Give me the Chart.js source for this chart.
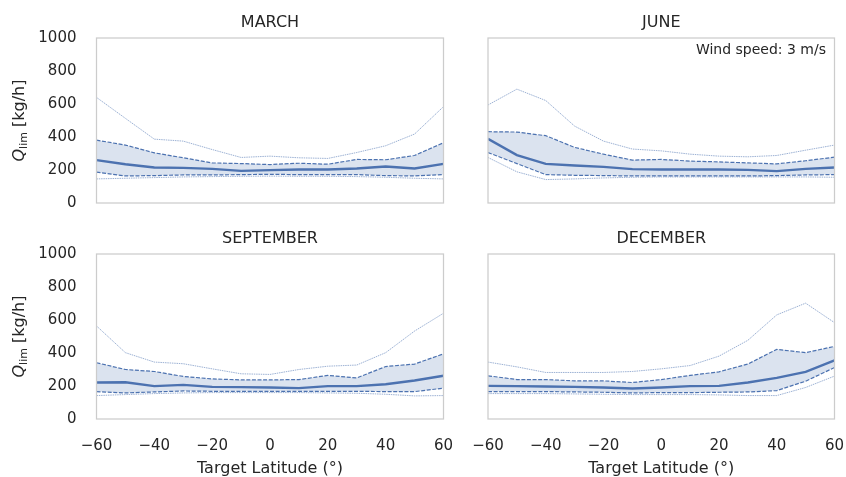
<!DOCTYPE html>
<html lang="en">

<head>
    <meta charset="UTF-8">
    <title>Q_lim by latitude</title>
    <script src="https://cdn.jsdelivr.net/npm/chart.js"></script>
    <style>
        body { margin: 0; background: #fff; overflow: hidden; }
        .panel { position: absolute; }
    </style>
</head>

<body>
    <div class="panel" style="left:0;top:0;width:470px;height:210px"><canvas id="marchChart"></canvas></div>
    <div class="panel" style="left:450px;top:0;width:396px;height:210px"><canvas id="juneChart"></canvas></div>
    <div class="panel" style="left:0;top:216px;width:470px;height:262px"><canvas id="septChart"></canvas></div>
    <div class="panel" style="left:450px;top:216px;width:396px;height:262px"><canvas id="decChart"></canvas></div>

    <script>
        // latitudes on x
        const lats = [-60, -50, -40, -30, -20, -10, 0, 10, 20, 30, 40, 50, 60];
        const xTicks = [-60, -40, -20, 0, 20, 40, 60];
        const yTicks = [0, 200, 400, 600, 800, 1000];

        // March
        const marMax = [640, 513, 387, 375, 324, 276, 284, 274, 270, 306, 347, 418, 584];
        const marUq  = [381, 351, 304, 274, 243, 239, 233, 241, 235, 264, 262, 288, 365];
        const marMed = [260, 235, 215, 213, 207, 195, 199, 203, 203, 209, 221, 209, 237];
        const marLq  = [187, 164, 166, 170, 170, 172, 174, 172, 172, 172, 166, 164, 172];
        const marMin = [146, 150, 154, 158, 160, 162, 163, 162, 162, 160, 156, 150, 146];

        // June
        const junMax = [594, 690, 621, 466, 375, 327, 316, 296, 284, 280, 288, 320, 351];
        const junUq  = [432, 430, 408, 337, 296, 260, 264, 254, 249, 243, 237, 256, 278];
        const junMed = [389, 290, 237, 227, 219, 205, 203, 203, 203, 201, 193, 207, 215];
        const junLq  = [306, 239, 172, 168, 166, 164, 164, 164, 164, 164, 166, 170, 172];
        const junMin = [276, 189, 142, 146, 152, 156, 158, 158, 158, 158, 158, 158, 156];

        // September
        const sepMax = [564, 402, 345, 335, 304, 274, 270, 300, 320, 327, 402, 533, 641];
        const sepUq  = [341, 300, 288, 258, 243, 237, 237, 239, 264, 249, 318, 333, 395];
        const sepMed = [221, 223, 199, 207, 195, 193, 191, 187, 199, 199, 211, 233, 262];
        const sepLq  = [166, 158, 164, 170, 168, 168, 168, 168, 168, 168, 166, 166, 187];
        const sepMin = [142, 148, 154, 158, 160, 160, 160, 160, 158, 156, 150, 140, 142];

        // December
        const decMax = [345, 316, 282, 282, 282, 288, 304, 324, 381, 477, 631, 702, 584];
        const decUq  = [262, 239, 239, 231, 231, 221, 239, 264, 286, 333, 422, 402, 440];
        const decMed = [201, 199, 197, 195, 191, 185, 191, 199, 201, 221, 249, 286, 355];
        const decLq  = [166, 166, 166, 164, 162, 158, 160, 160, 162, 164, 172, 229, 312];
        const decMin = [154, 154, 154, 152, 150, 148, 148, 148, 146, 142, 142, 191, 260];

        const BLUE = '#4c72b0';
        const PALE = 'rgba(76,114,176,0.55)';
        const TEXT = '#262626';
        const FONT = 'DejaVu Sans';

        const pts = arr => arr.map((v, i) => ({ x: lats[i], y: v }));

        // fixed axis sizes, no label overflow padding
        function fixSize(s, w, h) {
            if (w !== null) s.width = w;
            if (h !== null) s.height = h;
            s.paddingLeft = 0; s.paddingRight = 0; s.paddingTop = 0; s.paddingBottom = 0;
        }

        // frame round the plot area + panel title centred on it
        const framePlugin = {
            id: 'frame',
            afterDraw(chart, args, opts) {
                const a = chart.chartArea, ctx = chart.ctx;
                ctx.save();
                ctx.strokeStyle = '#cccccc';
                ctx.lineWidth = 1.25;
                ctx.strokeRect(a.left, a.top, a.right - a.left, a.bottom - a.top);
                ctx.font = '16px ' + FONT;
                ctx.fillStyle = TEXT;
                ctx.textAlign = 'center';
                ctx.textBaseline = 'middle';
                ctx.fillText(opts.title, (a.left + a.right) / 2, a.top - 15.5);
                ctx.restore();
            }
        };

        // y label with subscript, drawn rotated
        const yLabelPlugin = {
            id: 'yLabel',
            afterDraw(chart, args, opts) {
                if (!opts.show) return;
                const ctx = chart.ctx, a = chart.chartArea;
                ctx.save();
                ctx.translate(20, (a.top + a.bottom) / 2);
                ctx.rotate(-Math.PI / 2);
                ctx.fillStyle = TEXT;
                ctx.textBaseline = 'middle';
                const fQ = 'italic 16px ' + FONT, fSub = '11px ' + FONT, fMain = '16px ' + FONT;
                ctx.font = fQ; const wQ = ctx.measureText('Q').width;
                ctx.font = fSub; const wS = ctx.measureText('lim').width;
                ctx.font = fMain; const wM = ctx.measureText(' [kg/h]').width;
                let x = -(wQ + wS + wM) / 2;
                ctx.textAlign = 'left';
                ctx.font = fQ; ctx.fillText('Q', x, 0); x += wQ;
                ctx.font = fSub; ctx.fillText('lim', x, 4); x += wS;
                ctx.font = fMain; ctx.fillText(' [kg/h]', x, 0);
                ctx.restore();
            }
        };

        // wind speed note
        const notePlugin = {
            id: 'note',
            afterDraw(chart, args, opts) {
                if (!opts.text) return;
                const ctx = chart.ctx, a = chart.chartArea;
                ctx.save();
                ctx.font = '14px ' + FONT;
                ctx.fillStyle = TEXT;
                ctx.textAlign = 'right';
                ctx.textBaseline = 'middle';
                ctx.fillText(opts.text, a.right - 8.5, a.top + 12);
                ctx.restore();
            }
        };

        function makePanel(id, title, d, cfg) {
            return new Chart(document.getElementById(id), {
                type: 'line',
                data: {
                    datasets: [
                        { data: pts(d.max), borderColor: PALE, borderWidth: 1, borderDash: [1.5, 0.8], fill: false },
                        { data: pts(d.uq), borderColor: BLUE, borderWidth: 1.2, borderDash: [4, 1.6], fill: 3, backgroundColor: '#dbe3ef' },
                        { data: pts(d.med), borderColor: BLUE, borderWidth: 2.4, fill: false },
                        { data: pts(d.lq), borderColor: BLUE, borderWidth: 1.2, borderDash: [4, 1.6], fill: false },
                        { data: pts(d.min), borderColor: PALE, borderWidth: 1, borderDash: [1.5, 0.8], fill: false }
                    ]
                },
                options: {
                    responsive: true,
                    maintainAspectRatio: false,
                    animation: false,
                    events: [],
                    elements: { point: { radius: 0 }, line: { tension: 0 } },
                    layout: { padding: { left: 0, right: cfg.padRight, top: 38, bottom: 0 } },
                    plugins: {
                        legend: { display: false },
                        tooltip: { enabled: false },
                        title: { display: false },
                        filler: { drawTime: 'beforeDatasetsDraw' },
                        frame: { title: title },
                        yLabel: { show: cfg.yLabels },
                        note: { text: cfg.note || '' }
                    },
                    scales: {
                        x: {
                            type: 'linear', min: -60, max: 60,
                            grid: { display: false, drawTicks: false }, border: { display: false },
                            afterBuildTicks: s => { s.ticks = xTicks.map(v => ({ value: v })); },
                            afterFit: s => fixSize(s, null, cfg.xHeight),
                            ticks: {
                                display: cfg.xLabels, padding: 18, color: TEXT, maxRotation: 0,
                                font: { family: FONT, size: 15 },
                                callback: v => String(v).replace('-', '\u2212')
                            },
                            title: {
                                display: cfg.xLabels, text: 'Target Latitude (°)', color: TEXT,
                                font: { family: FONT, size: 16 }, padding: { top: 0, bottom: 0 }
                            }
                        },
                        y: {
                            min: 0, max: 1000,
                            grid: { display: false, drawTicks: false }, border: { display: false },
                            afterBuildTicks: s => { s.ticks = yTicks.map(v => ({ value: v })); },
                            afterFit: s => fixSize(s, cfg.yWidth, null),
                            ticks: {
                                display: cfg.yLabels, padding: 20, color: TEXT,
                                font: { family: FONT, size: 15 },
                                callback: v => String(v)
                            }
                        }
                    }
                },
                plugins: [framePlugin, yLabelPlugin, notePlugin]
            });
        }

        makePanel('marchChart', 'MARCH', { max: marMax, uq: marUq, med: marMed, lq: marLq, min: marMin },
            { yLabels: true, xLabels: false, yWidth: 96.5, xHeight: 7, padRight: 26.5 });
        makePanel('juneChart', 'JUNE', { max: junMax, uq: junUq, med: junMed, lq: junLq, min: junMin },
            { yLabels: false, xLabels: false, yWidth: 38, xHeight: 7, padRight: 11.5, note: 'Wind speed: 3 m/s' });
        makePanel('septChart', 'SEPTEMBER', { max: sepMax, uq: sepUq, med: sepMed, lq: sepLq, min: sepMin },
            { yLabels: true, xLabels: true, yWidth: 96.5, xHeight: 59, padRight: 26.5 });
        makePanel('decChart', 'DECEMBER', { max: decMax, uq: decUq, med: decMed, lq: decLq, min: decMin },
            { yLabels: false, xLabels: true, yWidth: 38, xHeight: 59, padRight: 11.5 });
    </script>
</body>

</html>
